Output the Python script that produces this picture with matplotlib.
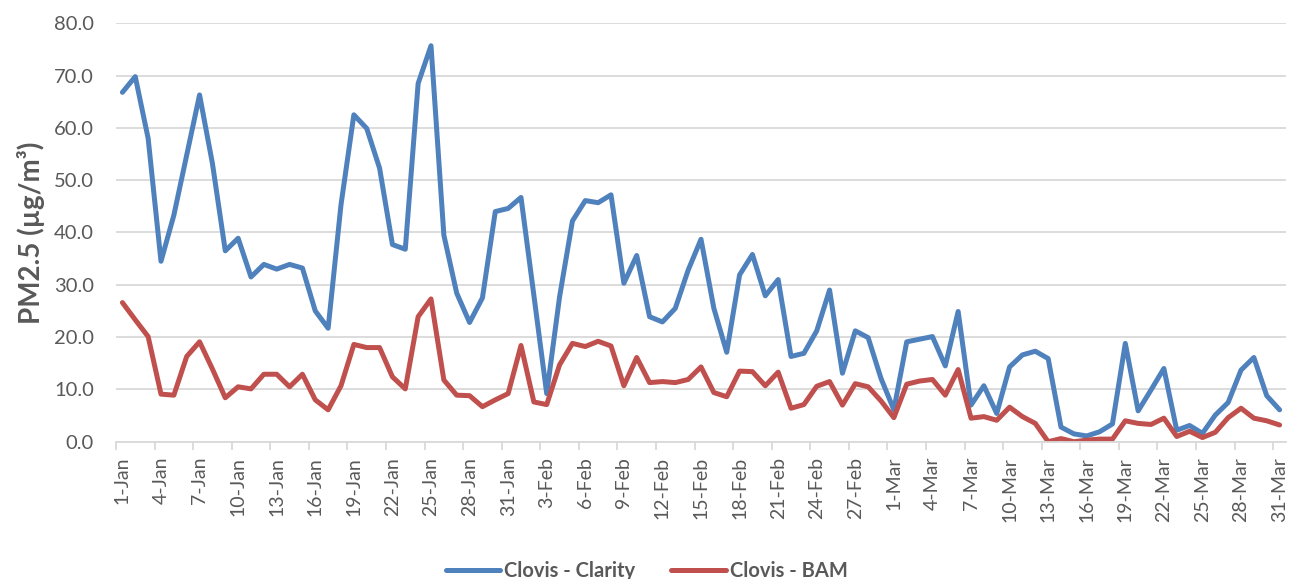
import pandas as pd
import matplotlib
matplotlib.use("Agg")
import matplotlib.pyplot as plt

# daily PM2.5, Jan - Mar 2024
dates = pd.date_range("2024-01-01", "2024-03-31", freq="D")

clarity = [66.8, 69.8, 58.0, 34.5, 43.3, 54.8, 66.3, 53.2, 36.5, 38.9,
           31.5, 33.9, 33.0, 33.9, 33.2, 25.0, 21.7, 45.3, 62.5, 59.9,
           52.3, 37.7, 36.8, 68.5, 75.7, 39.5, 28.4, 22.8, 27.5, 44.0,
           44.6, 46.7, 28.0, 9.2, 27.7, 42.2, 46.1, 45.7, 47.2, 30.3,
           35.6, 23.9, 22.9, 25.5, 32.8, 38.7, 25.5, 17.1, 31.9, 35.8,
           27.9, 31.0, 16.3, 16.9, 21.2, 29.0, 13.1, 21.2, 19.9, 12.1,
           6.1, 19.1, 19.6, 20.1, 14.5, 24.9, 7.0, 10.7, 5.4, 14.3,
           16.6, 17.3, 15.9, 2.8, 1.5, 1.1, 1.9, 3.4, 18.8, 5.9,
           9.9, 14.0, 2.2, 3.1, 1.6, 5.1, 7.5, 13.7, 16.1, 8.8,
           6.1]

bam = [26.6, 23.3, 20.1, 9.1, 8.9, 16.3, 19.1, 13.9, 8.4, 10.5,
       10.1, 12.9, 12.9, 10.5, 12.9, 8.0, 6.1, 10.7, 18.6, 18.0,
       18.0, 12.4, 10.1, 23.9, 27.3, 11.8, 8.9, 8.8, 6.7, 8.0,
       9.2, 18.4, 7.6, 7.1, 14.7, 18.8, 18.2, 19.2, 18.3, 10.7,
       16.1, 11.3, 11.5, 11.3, 11.9, 14.3, 9.4, 8.6, 13.5, 13.4,
       10.7, 13.3, 6.4, 7.1, 10.6, 11.5, 7.0, 11.1, 10.5, 7.8,
       4.6, 11.0, 11.6, 11.9, 8.9, 13.8, 4.5, 4.8, 4.1, 6.6,
       4.8, 3.5, 0.0, 0.6, 0.0, 0.3, 0.5, 0.5, 4.0, 3.5,
       3.3, 4.5, 1.0, 2.0, 0.8, 1.8, 4.6, 6.4, 4.5, 4.0,
       3.2]

series_names = ["Clovis - Clarity", "Clovis - BAM"]
series_colors = ["#4F81BD", "#C0504D"]

tick_labels = [f"{d.day}-{d.strftime('%b')}" for d in dates]

plt.rcParams["font.family"] = ["Lato", "DejaVu Sans"]
text_gray = "#595959"
grid_gray = "#D9D9D9"

fig = plt.figure(figsize=(12.96, 5.79), dpi=100)
ax = fig.add_axes([0.0895, 0.2371, 0.9028, 0.7227])

x = list(range(len(dates)))
for vals, name, col in zip([clarity, bam], series_names, series_colors):
    ax.plot(x, vals, color=col, lw=3.6, label=name,
            solid_joinstyle="round", solid_capstyle="round")

ax.set_xlim(-0.5, len(dates) - 0.5)
ax.set_ylim(0, 80)
ax.set_yticks(range(0, 81, 10))
ax.set_yticklabels([f"{v:.1f}" for v in range(0, 81, 10)])
ax.yaxis.grid(True, color=grid_gray, lw=1.3)
ax.set_axisbelow(True)

# labels every third day, tick marks between categories
ax.set_xticks(x[::3])
ax.set_xticklabels(tick_labels[::3], rotation=90)
ax.set_xticks([i - 0.5 for i in x[::3]], minor=True)
ax.tick_params(axis="x", which="major", length=0, pad=11,
               labelsize=14, labelcolor=text_gray)
ax.tick_params(axis="x", which="minor", length=5.5, width=1.3,
               color=grid_gray)
ax.tick_params(axis="y", length=0, pad=16, labelsize=14.5,
               labelcolor=text_gray)

for side in ["left", "right", "top"]:
    ax.spines[side].set_visible(False)
ax.spines["bottom"].set_color(grid_gray)
ax.spines["bottom"].set_linewidth(1.3)

ax.set_ylabel("PM2.5 (µg/m³)", fontsize=20, fontweight="bold",
              color=text_gray, labelpad=6)

fig.legend(loc="center", bbox_to_anchor=(0.499, 0.013), ncol=2,
           frameon=False, handlelength=2.7, handletextpad=0.2,
           columnspacing=1.8,
           prop={"size": 14.5, "weight": "bold"}, labelcolor=text_gray)

fig.savefig("out.png", dpi=100)
